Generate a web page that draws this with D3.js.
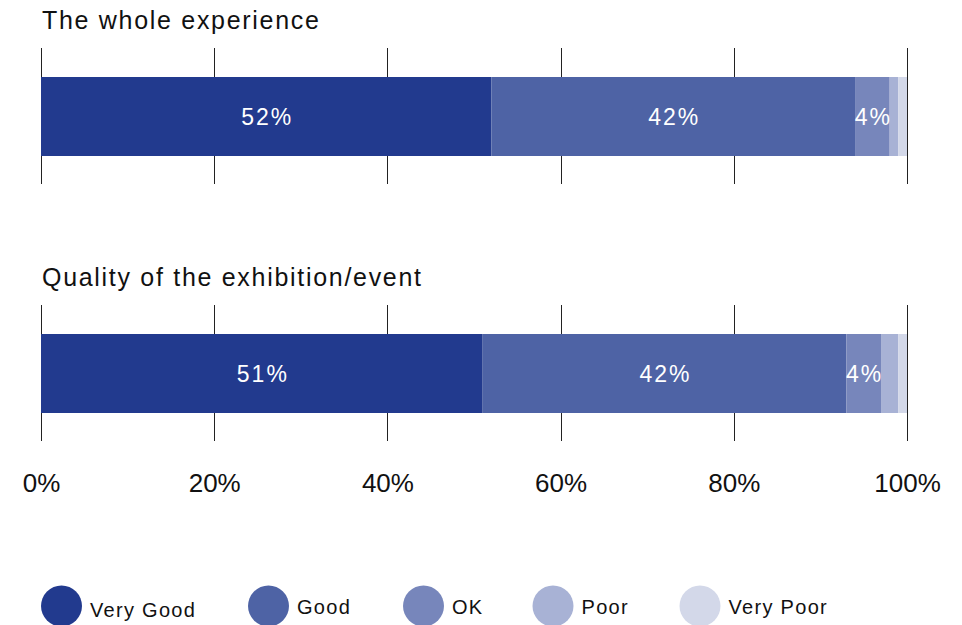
<!DOCTYPE html>
<html>
<head>
<meta charset="utf-8">
<script src="https://cdn.jsdelivr.net/npm/d3@7"></script>
<style>
  html, body { margin: 0; padding: 0; background: #fff; }
  svg { display: block; }
  text { font-family: "Liberation Sans", Arial, sans-serif; }
</style>
</head>
<body>
<svg id="chart" width="962" height="625"></svg>
<script>
// Survey questions and rating shares (percent)
const questions = ["The whole experience", "Quality of the exhibition/event"];
const ratings = ["Very Good", "Good", "OK", "Poor", "Very Poor"];
const wholeExperience = [52, 42, 4, 1, 1];
const qualityOfEvent = [51, 42, 4, 2, 1];
const tickValues = [0, 20, 40, 60, 80, 100];
const colors = ["#223a8e", "#4e63a5", "#7786bb", "#a8b2d5", "#d3d8e9"];

const rows = [wholeExperience, qualityOfEvent];

const svg = d3.select("#chart");
const x = d3.scaleLinear().domain([0, 100]).range([41, 907]);
const color = d3.scaleOrdinal().domain(ratings).range(colors);

// Each row: title, gridlines, stacked bar
const rowTop = [0, 257];
const barTopOffset = 77;
const barH = 79;

rows.forEach((vals, r) => {
  const g = svg.append("g").attr("transform", `translate(0,${rowTop[r]})`);

  g.append("text")
    .attr("x", 42).attr("y", 28.5)
    .attr("font-size", 25)
    .attr("letter-spacing", 1.7)
    .attr("fill", "#111")
    .text(questions[r]);

  // vertical gridlines through the bar area
  g.selectAll("line.grid")
    .data(tickValues)
    .join("line")
    .attr("class", "grid")
    .attr("x1", d => Math.round(x(d)) + 0.5)
    .attr("x2", d => Math.round(x(d)) + 0.5)
    .attr("y1", 48).attr("y2", 184)
    .attr("stroke", "#222")
    .attr("stroke-width", 1);

  const stack = [];
  let acc = 0;
  vals.forEach((v, i) => { stack.push({ key: ratings[i], v, x0: acc, x1: acc + v }); acc += v; });

  g.selectAll("rect.seg")
    .data(stack)
    .join("rect")
    .attr("class", "seg")
    .attr("x", d => x(d.x0))
    .attr("width", d => x(d.x1) - x(d.x0))
    .attr("y", barTopOffset)
    .attr("height", barH)
    .attr("fill", d => color(d.key));

  g.selectAll("text.val")
    .data(stack.filter(d => d.v >= 3))
    .join("text")
    .attr("class", "val")
    .attr("x", d => (x(d.x0) + x(d.x1)) / 2 + 1)
    .attr("y", barTopOffset + 47.5)
    .attr("text-anchor", "middle")
    .attr("font-size", 23)
    .attr("letter-spacing", 2)
    .attr("fill", "#fff")
    .text(d => d.v + "%");
});

// Bottom axis labels
const axis = d3.axisBottom(x)
  .tickValues(tickValues)
  .tickFormat(d => d + "%")
  .tickSize(0)
  .tickPadding(0);
const ag = svg.append("g").attr("transform", "translate(0,470)").call(axis);
ag.select(".domain").remove();
ag.selectAll("text")
  .attr("font-family", "'Liberation Sans', Arial, sans-serif")
  .attr("font-size", 26)
  .attr("fill", "#111")
  .attr("dy", 0).attr("y", 22);

// Legend
const legendX = [61.5, 268.5, 423.5, 553, 700];
const lg = svg.append("g");
const items = lg.selectAll("g.item")
  .data(ratings)
  .join("g")
  .attr("class", "item")
  .attr("transform", (d, i) => `translate(${legendX[i]},606)`);
items.append("circle")
  .attr("r", 20.5)
  .attr("fill", d => color(d));
items.append("text")
  .attr("x", 28.5)
  .attr("y", (d, i) => i === 0 ? 11 : 8)
  .attr("font-size", 20)
  .attr("letter-spacing", 1.3)
  .attr("fill", "#111")
  .text(d => d);
</script>
</body>
</html>
